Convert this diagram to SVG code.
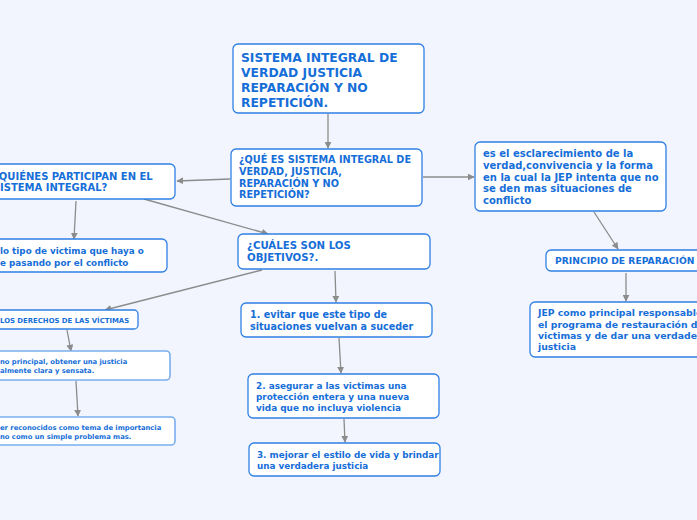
<svg xmlns="http://www.w3.org/2000/svg" width="697" height="520" viewBox="0 0 697 520">
<defs>
<style>
.bg{fill:#f2f5fd}
.n rect{fill:#fff;stroke:#2f80e4;stroke-width:1.3}
.l rect{fill:#fff;stroke:#7aaeee;stroke-width:1.6}
text{font-family:"DejaVu Sans","Verdana",sans-serif;font-weight:bold;fill:#166ed8}
.c path{fill:none;stroke:#8c8c8c;stroke-width:1.3;marker-end:url(#ah)}
</style>
<marker id="ah" viewBox="0 0 10 10" refX="9" refY="5" markerWidth="7" markerHeight="7" orient="auto" markerUnits="userSpaceOnUse">
<path d="M0,0 L10,5 L0,10 z" fill="#8c8c8c"/>
</marker>
</defs>
<rect class="bg" x="0" y="0" width="697" height="520"/>
<g class="c" id="connectors">
<path d="M328,114 L328,148"/>
<path d="M230,179 L177,181"/>
<path d="M423,177 L474,177"/>
<path d="M144,199 L268,234"/>
<path d="M76,201 L74,239"/>
<path d="M262,270 L105,310"/>
<path d="M335,271 L336,302"/>
<path d="M67,330 L71,351"/>
<path d="M76,381 L78,416"/>
<path d="M339,338 L341,373"/>
<path d="M344,419 L345,442"/>
<path d="M594,212 L618,249"/>
<path d="M626,273 L626,301"/>
</g>
<g class="n" id="n1">
<rect x="233" y="44" width="191" height="69" rx="5"/>
<text font-size="12.3"><tspan x="241" y="62">SISTEMA INTEGRAL DE</tspan><tspan x="241" y="77">VERDAD JUSTICIA</tspan><tspan x="241" y="92">REPARACIÓN Y NO</tspan><tspan x="241" y="107">REPETICIÓN.</tspan></text>
</g>
<g class="n" id="n2">
<rect x="231" y="149" width="191" height="57" rx="5"/>
<text font-size="9.7"><tspan x="239" y="163">¿QUÉ ES SISTEMA INTEGRAL DE</tspan><tspan x="239" y="175">VERDAD, JUSTICIA,</tspan><tspan x="239" y="187">REPARACIÓN Y NO</tspan><tspan x="239" y="198">REPETICIÓN?</tspan></text>
</g>
<g class="n" id="n3">
<rect x="-20" y="164" width="195" height="35" rx="5"/>
<text font-size="10"><tspan x="-7" y="180">¿QUIÉNES PARTICIPAN EN EL</tspan><tspan x="0" y="191">ISTEMA INTEGRAL?</tspan></text>
</g>
<g class="n" id="n4">
<rect x="475" y="142" width="191" height="69" rx="5"/>
<text font-size="10"><tspan x="483" y="157">es el esclarecimiento de la</tspan><tspan x="483" y="169">verdad,convivencia y la forma</tspan><tspan x="483" y="181">en la cual la JEP intenta que no</tspan><tspan x="483" y="192">se den mas situaciones de</tspan><tspan x="483" y="204">conflicto</tspan></text>
</g>
<g class="n" id="n5">
<rect x="238" y="234" width="192" height="35" rx="5"/>
<text font-size="10.2"><tspan x="247" y="249">¿CUÁLES SON LOS</tspan><tspan x="247" y="261">OBJETIVOS?.</tspan></text>
</g>
<g class="n" id="n6">
<rect x="-20" y="239" width="187" height="33" rx="5"/>
<text font-size="8.8"><tspan x="0" y="254">lo tipo de victima que haya o</tspan><tspan x="0" y="266">e pasando por el conflicto</tspan></text>
</g>
<g class="n" id="n7">
<rect x="-20" y="310" width="158" height="19" rx="4"/>
<text font-size="6.9"><tspan x="0" y="323">LOS DERECHOS DE LAS VÍCTIMAS</tspan></text>
</g>
<g class="l" id="n8">
<rect x="-20" y="351" width="190" height="29" rx="4"/>
<text font-size="6.8"><tspan x="0" y="364">no principal, obtener una justicia</tspan><tspan x="0" y="373">almente clara y sensata.</tspan></text>
</g>
<g class="l" id="n9">
<rect x="-20" y="417" width="195" height="28" rx="4"/>
<text font-size="6.8"><tspan x="0" y="430">er reconocidos como tema de importancia</tspan><tspan x="0" y="439">no como un simple problema mas.</tspan></text>
</g>
<g class="n" id="n10">
<rect x="241" y="303" width="191" height="34" rx="5"/>
<text font-size="9.6"><tspan x="250" y="318">1. evitar que este tipo de</tspan><tspan x="250" y="330">situaciones vuelvan a suceder</tspan></text>
</g>
<g class="n" id="n11">
<rect x="248" y="374" width="191" height="44" rx="5"/>
<text font-size="8.9"><tspan x="256" y="389">2. asegurar a las victimas una</tspan><tspan x="256" y="400">protección entera y una nueva</tspan><tspan x="256" y="411">vida que no incluya violencia</tspan></text>
</g>
<g class="n" id="n12">
<rect x="249" y="443" width="191" height="33" rx="5"/>
<text font-size="8.8"><tspan x="257" y="458">3. mejorar el estilo de vida y brindar</tspan><tspan x="257" y="469">una verdadera justicia</tspan></text>
</g>
<g class="n" id="n13">
<rect x="546" y="250" width="170" height="21" rx="5"/>
<text font-size="9.2"><tspan x="555" y="264">PRINCIPIO DE REPARACIÓN</tspan></text>
</g>
<g class="n" id="n14">
<rect x="530" y="302" width="190" height="55" rx="5"/>
<text font-size="9.3"><tspan x="538" y="316">JEP como principal responsable</tspan><tspan x="538" y="328">el programa de restauración de</tspan><tspan x="538" y="339">victimas y de dar una verdadera</tspan><tspan x="538" y="350">justicia</tspan></text>
</g>
</svg>
